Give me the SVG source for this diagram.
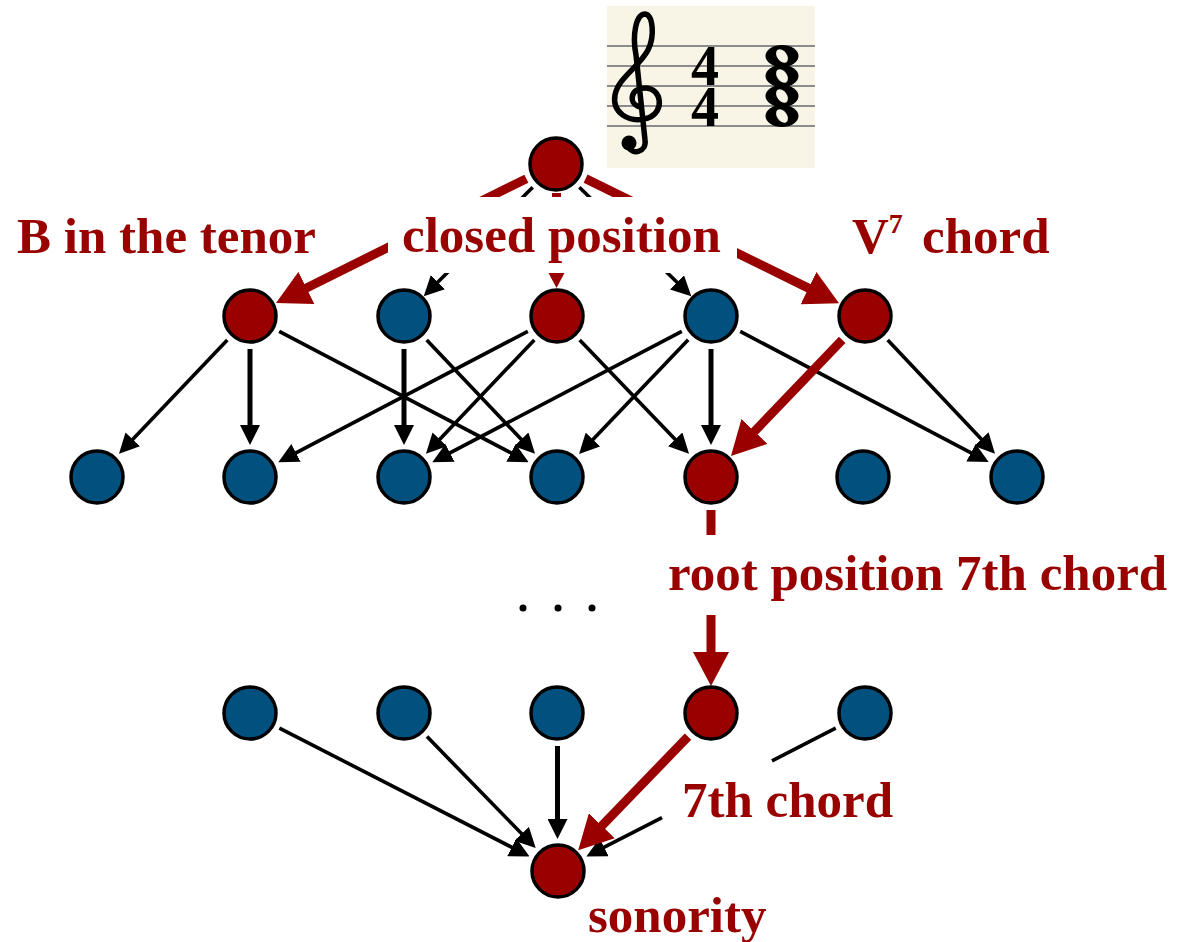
<svg xmlns="http://www.w3.org/2000/svg" width="1185" height="942" viewBox="0 0 1185 942">
<style>
.node circle{stroke:#000;stroke-width:3.5}
.red{fill:#990000}
.blue{fill:#02507e}
.e{fill:none;stroke:#000;stroke-width:3.6;marker-end:url(#ab)}
.v{stroke-width:5}
.er{fill:none;stroke:#990000;stroke-width:9;marker-end:url(#ar)}
.lbl{font-family:"Liberation Serif","Times New Roman",serif;font-weight:bold;font-size:51px;fill:#990000}
.bg{fill:#fff}
.staff{stroke:#8c8c8c;stroke-width:2}
</style>
<defs>
<marker id="ab" viewBox="0 0 20 20" markerUnits="userSpaceOnUse" markerWidth="20" markerHeight="20" refX="13" refY="10" orient="auto"><path d="M0,0 L20,10 L0,20 z" fill="#000"/></marker>
<marker id="ar" viewBox="0 0 34 36" markerUnits="userSpaceOnUse" markerWidth="34" markerHeight="36" refX="14" refY="18" orient="auto"><path d="M0,0 L34,18 L0,36 z" fill="#990000"/></marker>
</defs>
<rect width="1185" height="942" fill="#fff"/>
<g id="score">
<rect x="607" y="6" width="208" height="162" fill="#f8f4e6"/>
<line class="staff" x1="607" y1="46" x2="815" y2="46"/>
<line class="staff" x1="607" y1="66" x2="815" y2="66"/>
<line class="staff" x1="607" y1="86" x2="815" y2="86"/>
<line class="staff" x1="607" y1="106" x2="815" y2="106"/>
<line class="staff" x1="607" y1="126" x2="815" y2="126"/>
<path d="M640,107 C628,104 630,88 645,88 C662,88 665,112 648,118 C628,124 612,112 615,95 C618,78 640,66 648,50 C655,36 653,15 645,14 C636,14 632,35 636,55 L645,140 C647,152 632,156 628,146" fill="none" stroke="#000" stroke-width="5.5" stroke-linecap="round"/>
<circle cx="629" cy="143" r="7.5" fill="#000"/>
<text text-anchor="middle" font-family="Liberation Serif, serif" font-weight="bold" font-size="56" fill="#000"><tspan x="705" y="85">4</tspan><tspan x="705" y="126">4</tspan></text>
<g fill="#000">
<ellipse cx="782" cy="56" rx="16.5" ry="11"/>
<ellipse cx="782" cy="76" rx="16.5" ry="11"/>
<ellipse cx="782" cy="96" rx="16.5" ry="11"/>
<ellipse cx="782" cy="116" rx="16.5" ry="11"/>
</g>
<g fill="#f8f4e6">
<ellipse cx="782" cy="56" rx="5" ry="7.5" transform="rotate(-35 782 56)"/>
<ellipse cx="782" cy="76" rx="5" ry="7.5" transform="rotate(-35 782 76)"/>
<ellipse cx="782" cy="96" rx="5" ry="7.5" transform="rotate(-35 782 96)"/>
<ellipse cx="782" cy="116" rx="5" ry="7.5" transform="rotate(-35 782 116)"/>
</g>
</g>
<g id="connectors">
<path class="e" d="M532.7,187.3 L428.7,291.3"/>
<path class="e" d="M579.3,187.3 L686.3,291.3"/>
<path class="er" d="M526.4,178.7 L293.9,294.2"/>
<path class="er" d="M556.5,193 L556.5,268"/>
<path class="er" d="M585.6,178.6 L821.1,294.4"/>
<path class="e" d="M227.3,339.9 L123.8,448.8"/>
<path class="e v" d="M250,349 L250,438"/>
<path class="e" d="M279.2,331.3 L522.5,458.9"/>
<path class="e v" d="M404,349 L404,438"/>
<path class="e" d="M426.7,339.9 L530.2,448.8"/>
<path class="e" d="M527.8,331.3 L284.5,458.9"/>
<path class="e" d="M534.3,339.9 L430.8,448.8"/>
<path class="e" d="M579.7,339.9 L684.2,448.8"/>
<path class="e" d="M681.8,331.3 L438.5,458.9"/>
<path class="e" d="M688.2,339.8 L583.9,448.9"/>
<path class="e v" d="M711,349 L711,438"/>
<path class="e" d="M740.2,331.4 L982.5,458.8"/>
<path class="e" d="M887.7,340 L990.2,448.6"/>
<path class="er" d="M842.2,339.8 L744.8,441.5"/>
<path class="er" d="M711,510 L711,666"/>
<path class="e" d="M279.4,728.1 L523.3,853.2"/>
<path class="e" d="M427,736.6 L530.8,843.1"/>
<path class="e v" d="M557.5,746 L557.5,832"/>
<path class="e" d="M835.7,728.1 L772,760.9 M662,817.6 L592.6,853.2"/>
<path class="er" d="M688,736.7 L592.1,835.8"/>
</g>
<g id="labels">
<text class="lbl" x="17" y="253">B in the tenor</text>
<rect class="bg" x="388" y="197" width="349" height="76"/>
<text class="lbl" x="402" y="252">closed position</text>
<text class="lbl" x="852" y="253">V<tspan font-size="28" y="233">7</tspan><tspan x="922" y="253">chord</tspan></text>
<rect class="bg" x="655" y="535" width="530" height="80"/>
<text class="lbl" x="668" y="590">root position 7th chord</text>
<text class="lbl" x="682" y="817">7th chord</text>
<text class="lbl" x="588" y="932">sonority</text>
<g id="ellipsis" fill="#000">
<circle cx="523" cy="608" r="3.5"/>
<circle cx="558" cy="608" r="3.5"/>
<circle cx="592" cy="608" r="3.5"/>
</g>
</g>
<g id="n-top" class="node"><circle class="red" cx="556" cy="164" r="26"/></g>
<g id="n1a" class="node"><circle class="red" cx="250" cy="316" r="26"/></g>
<g id="n1b" class="node"><circle class="blue" cx="404" cy="316" r="26"/></g>
<g id="n1c" class="node"><circle class="red" cx="557" cy="316" r="26"/></g>
<g id="n1d" class="node"><circle class="blue" cx="711" cy="316" r="26"/></g>
<g id="n1e" class="node"><circle class="red" cx="865" cy="316" r="26"/></g>
<g id="n2a" class="node"><circle class="blue" cx="97" cy="477" r="26"/></g>
<g id="n2b" class="node"><circle class="blue" cx="250" cy="477" r="26"/></g>
<g id="n2c" class="node"><circle class="blue" cx="404" cy="477" r="26"/></g>
<g id="n2d" class="node"><circle class="blue" cx="557" cy="477" r="26"/></g>
<g id="n2e" class="node"><circle class="red" cx="711" cy="477" r="26"/></g>
<g id="n2f" class="node"><circle class="blue" cx="863" cy="477" r="26"/></g>
<g id="n2g" class="node"><circle class="blue" cx="1017" cy="477" r="26"/></g>
<g id="n3a" class="node"><circle class="blue" cx="250" cy="713" r="26"/></g>
<g id="n3b" class="node"><circle class="blue" cx="404" cy="713" r="26"/></g>
<g id="n3c" class="node"><circle class="blue" cx="557" cy="713" r="26"/></g>
<g id="n3d" class="node"><circle class="red" cx="711" cy="713" r="26"/></g>
<g id="n3e" class="node"><circle class="blue" cx="865" cy="713" r="26"/></g>
<g id="n-sonority" class="node"><circle class="red" cx="558" cy="871" r="26"/></g>
</svg>
